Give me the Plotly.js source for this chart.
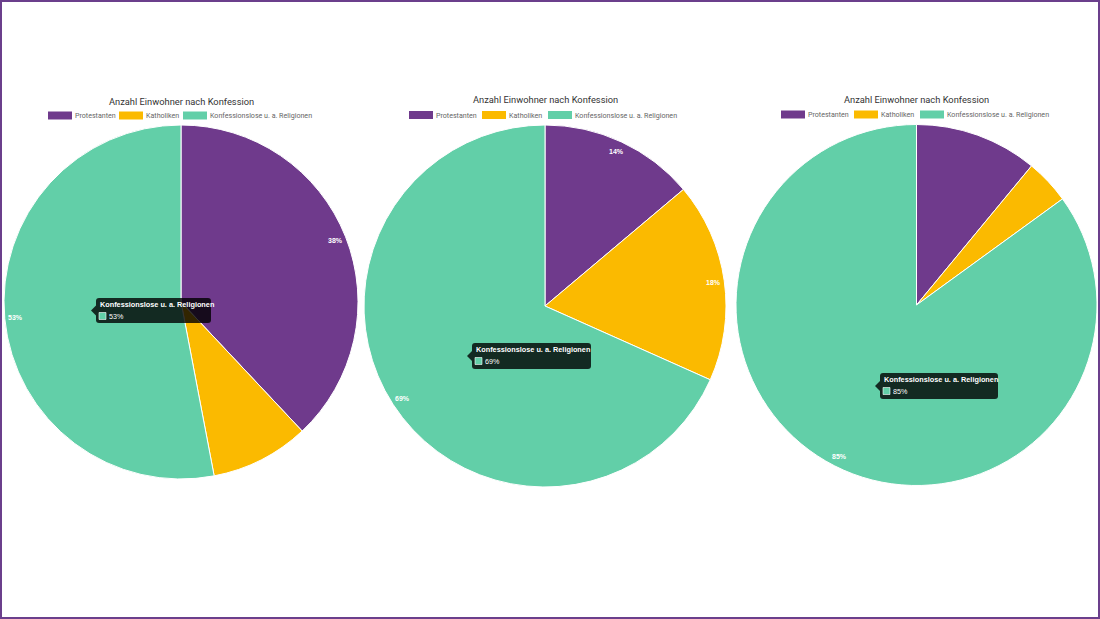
<!DOCTYPE html>
<html><head><meta charset="utf-8">
<script src="https://cdn.plot.ly/plotly-3.0.1.min.js"></script>
<style>html,body{margin:0;padding:0;background:#fff}#chart{width:1100px;height:619px}</style>
</head><body><div id="chart"></div>
<script>
// ---- data ----
const categories = ['Protestanten', 'Katholiken', 'Konfessionslose u. a. Religionen'];
const chartTitle = 'Anzahl Einwohner nach Konfession';
const values1 = [38, 9, 53];
const values2 = [14, 18, 69];
const values3 = [11, 4, 85];
const colors = ['#6f3a8c', '#fbba00', '#62cfa8'];
const tooltipIndex = 2;
const labelThreshold = 12;

// ---- layout helpers ----
const W = 1100, H = 619;
const X = p => p / W, Y = p => 1 - p / H;
const pies = [
  {vals: values1, cx: 181, cy: 302, R: 177, titleY: 101, legendY: 115.5, legendX: [48, 119, 183], tip: {x: 96, y: 298, w: 115, h: 25}},
  {vals: values2, cx: 545, cy: 306, R: 181, titleY: 100, legendY: 115, legendX: [409, 482, 548], tip: {x: 472, y: 343, w: 119, h: 26}},
  {vals: values3, cx: 916.5, cy: 305, R: 180.5, titleY: 99.5, legendY: 114.5, legendX: [781, 854, 920], tip: {x: 880, y: 373, w: 118, h: 26}}
];

function roundRect(x, y, w, h, r) {
  const px = v => X(v), py = v => Y(v);
  return `M${px(x + r)},${py(y)} L${px(x + w - r)},${py(y)} Q${px(x + w)},${py(y)} ${px(x + w)},${py(y + r)} ` +
    `L${px(x + w)},${py(y + h - r)} Q${px(x + w)},${py(y + h)} ${px(x + w - r)},${py(y + h)} ` +
    `L${px(x + r)},${py(y + h)} Q${px(x)},${py(y + h)} ${px(x)},${py(y + h - r)} ` +
    `L${px(x)},${py(y + r)} Q${px(x)},${py(y)} ${px(x + r)},${py(y)} Z`;
}

const traces = [], annotations = [], shapes = [];
pies.forEach((p, i) => {
  traces.push({
    type: 'pie', labels: categories, values: p.vals, sort: false, direction: 'clockwise', rotation: 0,
    marker: {colors: colors, line: {color: '#ffffff', width: 1}},
    textinfo: 'none', hoverinfo: 'none', showlegend: false,
    domain: {x: [X(p.cx - p.R), X(p.cx + p.R)], y: [Y(p.cy + p.R), Y(p.cy - p.R)]}
  });
  // title
  annotations.push({text: chartTitle, x: X(p.cx), y: Y(p.titleY), xref: 'paper', yref: 'paper',
    xanchor: 'center', yanchor: 'middle', showarrow: false, font: {family: 'Roboto', size: 9.3, color: '#333'}});
  // legend
  categories.forEach((c, k) => {
    const lx = p.legendX[k];
    shapes.push({type: 'rect', xref: 'paper', yref: 'paper', x0: X(lx), x1: X(lx + 24), y0: Y(p.legendY - 4), y1: Y(p.legendY + 4),
      fillcolor: colors[k], line: {width: 0}});
    annotations.push({text: c, x: X(lx + 25), y: Y(p.legendY), xref: 'paper', yref: 'paper', xanchor: 'left', yanchor: 'middle',
      showarrow: false, font: {family: 'Roboto', size: 7.1, color: '#666'}});
  });
  // data labels
  const total = p.vals.reduce((a, b) => a + b, 0);
  let cum = 0;
  p.vals.forEach((v, k) => {
    const mid = (cum + v / 2) / total * 2 * Math.PI;
    cum += v;
    if (v < labelThreshold) return;
    const r = p.R - 11;
    annotations.push({text: '<b>' + v + '%</b>', x: X(p.cx + r * Math.sin(mid)), y: Y(p.cy - r * Math.cos(mid)),
      xref: 'paper', yref: 'paper', xanchor: 'center', yanchor: 'middle', showarrow: false,
      font: {family: 'Arial', size: 7, color: '#ffffff'}});
  });
  // tooltip
  const t = p.tip;
  shapes.push({type: 'path', xref: 'paper', yref: 'paper', path: roundRect(t.x, t.y, t.w, t.h, 3),
    fillcolor: 'rgba(0,0,0,0.8)', line: {width: 0}});
  const my = t.y + t.h / 2;
  shapes.push({type: 'path', xref: 'paper', yref: 'paper',
    path: `M${X(t.x)},${Y(my - 5)} L${X(t.x - 5)},${Y(my)} L${X(t.x)},${Y(my + 5)} Z`,
    fillcolor: 'rgba(0,0,0,0.8)', line: {width: 0}});
  annotations.push({text: '<b>' + categories[tooltipIndex] + '</b>', x: X(t.x + 2), y: Y(t.y + 6.5), xref: 'paper', yref: 'paper',
    xanchor: 'left', yanchor: 'middle', showarrow: false, font: {family: 'Arial', size: 7.3, color: '#ffffff'}});
  shapes.push({type: 'rect', xref: 'paper', yref: 'paper', x0: X(t.x + 3), x1: X(t.x + 10), y0: Y(t.y + 14.5), y1: Y(t.y + 21.5),
    fillcolor: colors[tooltipIndex], line: {color: '#ffffff', width: 0.6}});
  annotations.push({text: p.vals[tooltipIndex] + '%', x: X(t.x + 10.5), y: Y(t.y + 18), xref: 'paper', yref: 'paper',
    xanchor: 'left', yanchor: 'middle', showarrow: false, font: {family: 'Arial', size: 7.2, color: '#ffffff'}});
});

// frame
shapes.push({type: 'rect', xref: 'paper', yref: 'paper', x0: X(1), x1: X(W - 1), y0: Y(H - 1), y1: Y(1),
  line: {color: '#6b3f8c', width: 2}, fillcolor: 'rgba(0,0,0,0)'});

Plotly.newPlot('chart', traces, {
  width: W, height: H, margin: {l: 0, r: 0, t: 0, b: 0}, paper_bgcolor: '#fff',
  showlegend: false, annotations: annotations, shapes: shapes
}, {displayModeBar: false, staticPlot: true});
</script></body></html>
